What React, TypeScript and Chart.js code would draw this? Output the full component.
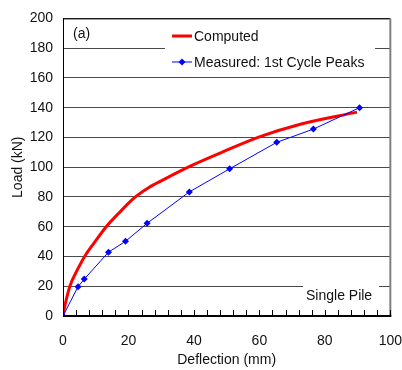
import React, { useEffect, useRef } from "react";
import { Chart, registerables } from "chart.js";

Chart.register(...registerables);

// ---- Data ----
const computedDeflection = [0, 0.5, 1, 2.1, 4.5, 6.6, 9.8, 13.2, 17, 21.4, 26, 30.6, 39.2, 48, 60.2, 72.5, 89.8];
const computedLoad = [0, 6, 11, 20, 31.5, 40, 50, 60, 69, 78.7, 86, 91.5, 101, 109.5, 120.5, 128.9, 137];

const measuredDeflection = [0, 4.6, 6.5, 13.9, 19.1, 25.7, 38.6, 50.9, 65.3, 76.5, 90.6];
const measuredLoad = [0, 19.7, 24.8, 42.9, 50.2, 62.3, 83.4, 98.9, 116.7, 125.6, 140];

const xMin = 0, xMax = 100, xStep = 20, xMinorStep = 4;
const yMin = 0, yMax = 200, yStep = 20;

const seriesNames = ["Computed", "Measured: 1st Cycle Peaks"];
const panelLabel = "(a)";
const caseLabel = "Single Pile";
const xTitle = "Deflection (mm)";
const yTitle = "Load (kN)";

const FONT = "'Liberation Sans', Arial, sans-serif";

const decorPlugin = {
  id: "decor",
  beforeDatasetsDraw(chart: any) {
    const ctx = chart.ctx;
    const ca = chart.chartArea;
    ctx.save();
    ctx.fillStyle = "#ffffff";
    // legend box
    ctx.fillRect(165, ca.top + 6, 210, 52);
    // single pile box
    ctx.fillRect(303, 279, 76, 28);

    ctx.font = `14px ${FONT}`;
    ctx.textBaseline = "middle";
    ctx.textAlign = "left";
    ctx.fillStyle = "#111";
    ctx.fillText(panelLabel, 73, 34);
    ctx.fillText(caseLabel, 306, 296);

    // legend entries
    ctx.strokeStyle = "#ff0000";
    ctx.lineWidth = 3;
    ctx.beginPath();
    ctx.moveTo(172, 36);
    ctx.lineTo(192, 36);
    ctx.stroke();
    ctx.fillStyle = "#111";
    ctx.fillText(seriesNames[0], 194, 37);

    ctx.strokeStyle = "#0000ff";
    ctx.lineWidth = 1;
    ctx.beginPath();
    ctx.moveTo(172, 62);
    ctx.lineTo(192, 62);
    ctx.stroke();
    ctx.fillStyle = "#0000ff";
    ctx.beginPath();
    ctx.moveTo(182, 58.5);
    ctx.lineTo(185.5, 62);
    ctx.lineTo(182, 65.5);
    ctx.lineTo(178.5, 62);
    ctx.closePath();
    ctx.fill();
    ctx.fillStyle = "#111";
    ctx.fillText(seriesNames[1], 194, 63);
    ctx.restore();
  },
  afterDraw(chart: any) {
    const ctx = chart.ctx;
    const ca = chart.chartArea;
    const xs = chart.scales.x;
    ctx.save();
    // top line
    ctx.strokeStyle = "#000";
    ctx.lineWidth = 1;
    ctx.beginPath();
    ctx.moveTo(ca.left, ca.top + 0.5);
    ctx.lineTo(ca.right, ca.top + 0.5);
    ctx.stroke();
    // right border
    ctx.strokeStyle = "#808080";
    ctx.lineWidth = 2;
    ctx.beginPath();
    ctx.moveTo(ca.right, ca.top);
    ctx.lineTo(ca.right, ca.bottom);
    ctx.stroke();
    // left axis
    ctx.strokeStyle = "#000";
    ctx.lineWidth = 1;
    ctx.beginPath();
    ctx.moveTo(ca.left + 0.5, ca.top);
    ctx.lineTo(ca.left + 0.5, ca.bottom);
    ctx.stroke();
    // bottom axis
    ctx.lineWidth = 2;
    ctx.beginPath();
    ctx.moveTo(ca.left, ca.bottom);
    ctx.lineTo(ca.right + 1, ca.bottom);
    ctx.stroke();
    // inward minor ticks
    ctx.lineWidth = 1;
    for (let v = xMin; v <= xMax; v += xMinorStep) {
      const px = Math.round(xs.getPixelForValue(v)) + 0.5;
      ctx.beginPath();
      ctx.moveTo(px, ca.bottom);
      ctx.lineTo(px, ca.bottom - 6);
      ctx.stroke();
    }
    ctx.restore();
  },
};

export default function App() {
  const ref = useRef<HTMLCanvasElement | null>(null);
  useEffect(() => {
    if (!ref.current) return;
    const chart = new Chart(ref.current, {
      type: "line",
      data: {
        datasets: [
          {
            label: seriesNames[1],
            data: measuredDeflection.map((x, i) => ({ x, y: measuredLoad[i] })),
            borderColor: "#0000ff",
            backgroundColor: "#0000ff",
            borderWidth: 1,
            pointStyle: "rectRot",
            pointRadius: 3.5,
            pointBorderWidth: 0,
            tension: 0,
          },
          {
            label: seriesNames[0],
            data: computedDeflection.map((x, i) => ({ x, y: computedLoad[i] })),
            borderColor: "#ff0000",
            backgroundColor: "#ff0000",
            borderWidth: 3,
            pointRadius: 0,
            cubicInterpolationMode: "monotone",
          },
        ],
      },
      options: {
        animation: false,
        responsive: false,
        maintainAspectRatio: false,
        layout: { padding: { left: 0, right: 0, top: 17, bottom: 0 } },
        plugins: { legend: { display: false }, tooltip: { enabled: false } },
        scales: {
          x: {
            type: "linear",
            min: xMin,
            max: xMax,
            border: { display: false },
            grid: {
              display: true,
              drawOnChartArea: false,
              drawTicks: true,
              tickLength: 17,
              tickColor: "rgba(0,0,0,0)",
            },
            ticks: {
              stepSize: xStep,
              padding: 0,
              color: "#111",
              font: { family: FONT, size: 14 },
              maxRotation: 0,
            },
            title: {
              display: true,
              text: xTitle,
              color: "#111",
              font: { family: FONT, size: 14 },
              padding: { top: 0, bottom: 1 },
            },
            afterFit: (s: any) => {
              s.height = 54;
            },
          },
          y: {
            type: "linear",
            min: yMin,
            max: yMax,
            border: { display: false },
            grid: { color: "#4a4a4a", lineWidth: 1, drawTicks: false },
            ticks: {
              stepSize: yStep,
              padding: 10,
              color: "#111",
              font: { family: FONT, size: 14 },
            },
            title: {
              display: true,
              text: yTitle,
              color: "#111",
              font: { family: FONT, size: 14 },
              padding: { top: 10, bottom: 0 },
            },
            afterFit: (s: any) => {
              s.width = 63;
            },
          },
        },
      },
      plugins: [decorPlugin],
    } as any);
    return () => chart.destroy();
  }, []);
  return (
    <div style={{ position: "fixed", left: 0, top: 0, width: 402, height: 370, background: "#fff" }}>
      <canvas ref={ref} width={402} height={370} style={{ display: "block" }} />
    </div>
  );
}
